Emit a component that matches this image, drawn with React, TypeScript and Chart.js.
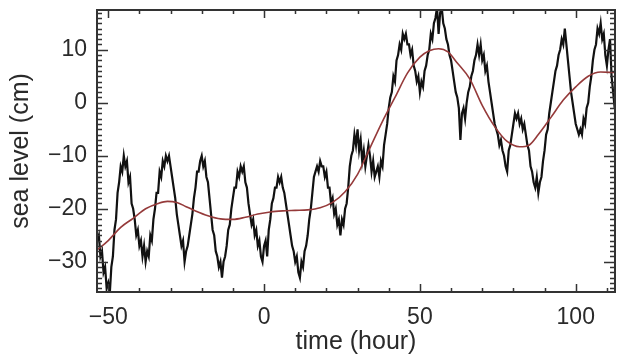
import React, { useEffect, useRef } from "react";
import { Chart, registerables } from "chart.js";

Chart.register(...registerables);

// Observed sea level, half-hourly samples starting at t = -54 h
const TIME_START = -54;
const TIME_STEP = 0.5;
const SEA_LEVEL = [
  -24, -26, -25, -29, -28, -32, -31, -35, -34, -36,
  -31, -29, -24, -22, -17, -15, -12, -13, -10, -12,
  -11, -15, -14, -19, -20, -22, -25, -24, -27, -26,
  -29, -27, -30, -28, -29, -25, -26, -22, -20, -17,
  -17, -13, -14, -11, -12, -10, -11, -10, -12, -14,
  -16, -18, -21, -23, -25, -27, -26, -30, -28, -27,
  -25, -23, -21, -18, -16, -13, -13, -11, -10, -12,
  -11, -14, -15, -18, -21, -24, -25, -28, -29, -31,
  -30, -33, -30, -29, -27, -24, -23, -20, -18, -16,
  -16, -13, -14, -12, -13, -12, -15, -16, -19, -21,
  -23, -22, -25, -24, -27, -26, -29, -30, -27, -26,
  -29, -24, -22, -19, -18, -16, -16, -14, -15, -14,
  -16, -17, -19, -21, -23, -25, -27, -28, -30, -29,
  -32, -33, -30, -31, -28, -27, -25, -22, -20, -17,
  -14, -13, -12, -13, -11, -12, -12, -14, -13, -16,
  -16, -19, -18, -21, -20, -23, -22, -25, -22, -23,
  -20, -19, -16, -12, -10, -9, -6, -8, -5, -9,
  -7, -11, -9, -12, -10, -8, -10, -13, -11, -14,
  -13, -12, -14, -11, -12, -8, -6, -4, -1, 1,
  2, 5, 4, 8, 9, 11, 10, 13, 12, 13,
  11, 11, 9, 10, 7, 6, 4, 5, 2, 4,
  3, 6, 7, 9, 10, 13, 12, 15, 16, 18,
  13, 17, 18, 15, 14, 12, 11, 9, 8, 6,
  4, 2, 1, -1, -7, -2, -1, -3, 0, 2,
  3, 5, 6, 8, 9, 11, 9, 11, 8, 9,
  6, 7, 4, 2, 0, -2, -4, -5, -6, -8,
  -7, -9, -10, -12, -13, -9, -8, -6, -4, -2,
  -3, -2, -4, -3, -5, -4, -6, -8, -9, -12,
  -13, -15, -16, -14, -17, -15, -14, -11, -9, -6,
  -5, -2, 0, 2, 4, 6, 7, 9, 10, 12,
  11, 14, 11, 8, 5, 2, 0, -2, -4, -5,
  -6, -5, -6, -3, -4, -1, 0, 3, 5, 8,
  10, 11, 14, 13, 15, 12, 13, 9, 7, 10,
  12, 5, 2, -1,
];

// Smoothed (low-pass) sea level
const SMOOTH_TIME = [
  -54, -50, -46, -42, -38, -34, -31, -28, -25, -22, -18, -14, -10, -6, -2, 2, 6, 10,
  14, 18, 22, 26, 30, 34, 38, 42, 46, 50, 53, 56, 59, 62, 66, 70, 74, 78, 82, 85,
  88, 92, 96, 100, 104, 108, 112.5,
];
const SMOOTH_LEVEL = [
  -28, -26, -23.5, -21.8, -20, -19, -18.6, -18.8, -19.6, -20.4, -21.3, -21.9, -22,
  -21.6, -21, -20.6, -20.4, -20.3, -20.2, -19.8, -18.8, -16.8, -13.5, -8.5, -3.5, 1,
  5.6, 8.6, 9.8, 10.2, 9.6, 7.5, 4.5, -0.5, -4.5, -7.3, -8.3, -8, -6, -2.8, 0.5, 3,
  5, 5.8, 5.7,
];

const X_MIN = -53.6;
const X_MAX = 112.6;
const Y_MIN = -35.7;
const Y_MAX = 17.5;
const X_MAJOR_TICKS = [-50, 0, 50, 100];
const X_MINOR_TICKS = [-50, -40, -30, -20, -10, 0, 10, 20, 30, 40, 50, 60, 70, 80, 90, 100, 110];
const Y_MAJOR_TICKS = [-30, -20, -10, 0, 10];
const Y_MINOR_TICKS = [
  -35, -34, -33, -32, -31, -30, -29, -28, -27, -26, -25, -24, -23, -22, -21, -20, -19,
  -18, -17, -16, -15, -14, -13, -12, -11, -10, -9, -8, -7, -6, -5, -4, -3, -2, -1, 0,
  1, 2, 3, 4, 5, 6, 7, 8, 9, 10, 11, 12, 13, 14, 15, 16, 17,
];

const FAMILY = "'Liberation Sans', Arial, sans-serif";
const TICK_FONT = { family: FAMILY, size: 23 };
const TITLE_FONT = { family: FAMILY, size: 25 };
const TEXT_COLOR = "#2a2a2a";
const AXIS_COLOR = "#333";

const fmt = (v: number) => (v < 0 ? "\u2212" + Math.abs(v) : String(v));

const framePlugin = {
  id: "idlFrame",
  afterDatasetsDraw(chart: any) {
    const { ctx, chartArea: a, scales } = chart;
    const xs = scales.x;
    const ys = scales.y;
    ctx.save();
    ctx.strokeStyle = AXIS_COLOR;
    ctx.lineWidth = 1.5;
    ctx.beginPath();
    for (const v of X_MINOR_TICKS) {
      const px = Math.round(xs.getPixelForValue(v)) + 0.5;
      const len = X_MAJOR_TICKS.includes(v) ? 8 : 4;
      ctx.moveTo(px, a.bottom);
      ctx.lineTo(px, a.bottom - len);
      ctx.moveTo(px, a.top);
      ctx.lineTo(px, a.top + len);
    }
    for (const v of Y_MINOR_TICKS) {
      const py = Math.round(ys.getPixelForValue(v)) + 0.5;
      const len = Y_MAJOR_TICKS.includes(v) ? 11 : 5;
      ctx.moveTo(a.left, py);
      ctx.lineTo(a.left + len, py);
      ctx.moveTo(a.right, py);
      ctx.lineTo(a.right - len, py);
    }
    ctx.stroke();
    ctx.lineWidth = 2;
    ctx.strokeRect(a.left, a.top, a.right - a.left, a.bottom - a.top);
    ctx.restore();
  },
};

export default function App() {
  const ref = useRef<HTMLCanvasElement>(null);
  useEffect(() => {
    if (!ref.current) return;
    const observed = SEA_LEVEL.map((v, i) => ({ x: TIME_START + i * TIME_STEP, y: v }));
    const smooth = SMOOTH_TIME.map((t, i) => ({ x: t, y: SMOOTH_LEVEL[i] }));
    const chart = new Chart(ref.current, {
      type: "line",
      data: {
        datasets: [
          {
            data: smooth,
            borderColor: "#953a3a",
            borderWidth: 1.6,
            pointRadius: 0,
            tension: 0.4,
            cubicInterpolationMode: "monotone",
          },
          {
            data: observed,
            borderColor: "#111",
            borderWidth: 2.2,
            pointRadius: 0,
            tension: 0,
          },
        ],
      },
      options: {
        responsive: false,
        animation: false,
        devicePixelRatio: 1,
        layout: { autoPadding: false, padding: { left: 0, top: 10, right: 6, bottom: 0 } },
        plugins: { legend: { display: false }, tooltip: { enabled: false } },
        scales: {
          x: {
            type: "linear",
            min: X_MIN,
            max: X_MAX,
            grid: { display: false, drawTicks: false },
            border: { display: false },
            afterBuildTicks: (s: any) => {
              s.ticks = X_MAJOR_TICKS.map((v) => ({ value: v }));
            },
            afterFit: (s: any) => {
              s.height = 66;
              s.paddingLeft = 0;
              s.paddingRight = 0;
            },
            ticks: {
              font: TICK_FONT,
              color: TEXT_COLOR,
              padding: 12,
              maxRotation: 0,
              autoSkip: false,
              callback: (v: any) => fmt(Number(v)),
            },
            title: {
              display: true,
              text: "time (hour)",
              font: TITLE_FONT,
              color: TEXT_COLOR,
              padding: { top: 0, bottom: 1 },
            },
          },
          y: {
            type: "linear",
            min: Y_MIN,
            max: Y_MAX,
            grid: { display: false, drawTicks: false },
            border: { display: false },
            afterBuildTicks: (s: any) => {
              s.ticks = Y_MAJOR_TICKS.map((v) => ({ value: v }));
            },
            afterFit: (s: any) => {
              s.width = 97;
              s.paddingTop = 0;
              s.paddingBottom = 0;
            },
            ticks: {
              font: TICK_FONT,
              color: TEXT_COLOR,
              padding: 10,
              autoSkip: false,
              callback: (v: any) => fmt(Number(v)),
            },
            title: {
              display: true,
              text: "sea level (cm)",
              font: TITLE_FONT,
              color: TEXT_COLOR,
              padding: { top: 6, bottom: 0 },
            },
          },
        },
      },
      plugins: [framePlugin],
    });
    return () => chart.destroy();
  }, []);
  return (
    <div style={{ position: "fixed", left: 0, top: 0, width: 621, height: 358, background: "#fff" }}>
      <canvas ref={ref} width={621} height={358} style={{ width: 621, height: 358, display: "block" }} />
    </div>
  );
}
